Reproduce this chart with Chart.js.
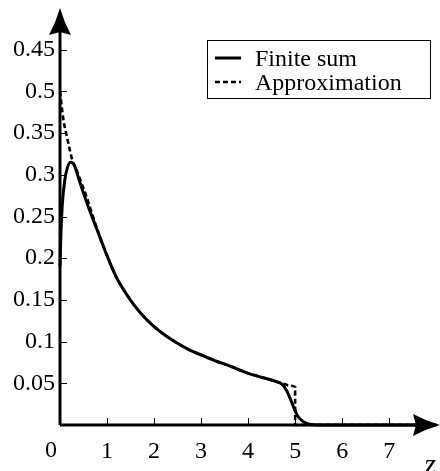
<!DOCTYPE html>
<html>
<head>
<meta charset="utf-8">
<script src="https://cdn.jsdelivr.net/npm/chart.js@4"></script>
<style>
    body { margin: 0; background: #fff; }
    canvas { display: block; }
</style>
</head>
<body>
<canvas id="sumChart" width="440" height="471"></canvas>
<script>
// z positions and values of the finite sum
const sumZ = [0, 0.02, 0.05, 0.1, 0.15, 0.22, 0.3, 0.4, 0.5, 0.6, 0.7, 0.85, 1.0, 1.2, 1.4, 1.6, 1.8, 2.0,
    2.25, 2.5, 2.75, 3.0, 3.3, 3.6, 4.0, 4.3, 4.6, 4.72, 4.82, 4.9, 4.97, 5.05, 5.15, 5.3, 5.5, 8.0];
const sumValues = [0.19, 0.23, 0.265, 0.293, 0.307, 0.315, 0.312, 0.295, 0.278, 0.262, 0.247, 0.225, 0.203, 0.177,
    0.158, 0.142, 0.129, 0.118, 0.107, 0.098, 0.090, 0.084, 0.077, 0.071, 0.062, 0.057, 0.052, 0.049, 0.041, 0.031,
    0.021, 0.011, 0.005, 0.001, 0, 0];

// z positions and values of the approximation
const approxZ = [0, 0.07, 0.13, 0.2, 0.26, 0.35, 0.45, 0.55, 0.7, 0.85, 1.0, 1.2, 1.4, 1.6, 1.8, 2.0, 2.25, 2.5,
    2.75, 3.0, 3.3, 3.6, 4.0, 4.3, 4.6, 4.75, 4.9, 4.999, 5.0, 8.0];
const approxValues = [0.400, 0.367, 0.350, 0.332, 0.318, 0.306, 0.291, 0.276, 0.250, 0.225, 0.203, 0.177, 0.158,
    0.142, 0.129, 0.118, 0.107, 0.098, 0.090, 0.084, 0.077, 0.071, 0.062, 0.057, 0.052, 0.0495, 0.047, 0.0455, 0, 0];

const zTicks = [0, 1, 2, 3, 4, 5, 6, 7];
const zTickLabels = ['0', '1', '2', '3', '4', '5', '6', '7'];
const yTicks = [0.05, 0.1, 0.15, 0.2, 0.25, 0.3, 0.35, 0.4, 0.45];
const yTickLabels = ['0.05', '0.1', '0.15', '0.2', '0.25', '0.3', '0.35', '0.5', '0.45'];

const seriesLabels = ['Finite sum', 'Approximation'];

const FONT = 'Liberation Serif';
const FONT_SIZE = 24;

const toPoints = (xs, ys) => xs.map((z, i) => ({ x: z, y: ys[i] }));

// axes with arrow heads, inward ticks, origin label and axis name
const arrowAxes = {
    id: 'arrowAxes',
    afterDatasetsDraw(chart) {
        const { ctx, chartArea, scales: { x, y } } = chart;
        const ox = x.getPixelForValue(0);
        const oy = y.getPixelForValue(0);
        const head = 27, half = 11;

        ctx.save();
        ctx.strokeStyle = '#000';
        ctx.fillStyle = '#000';

        ctx.lineWidth = 1;
        ctx.beginPath();
        yTicks.forEach(v => {
            const py = Math.round(y.getPixelForValue(v)) + 0.5;
            ctx.moveTo(ox, py);
            ctx.lineTo(ox + 7, py);
        });
        zTicks.slice(1).forEach(v => {
            const px = Math.round(x.getPixelForValue(v)) + 0.5;
            ctx.moveTo(px, oy);
            ctx.lineTo(px, oy - 7);
        });
        ctx.stroke();

        ctx.lineWidth = 3;
        ctx.beginPath();
        ctx.moveTo(ox, oy);
        ctx.lineTo(chartArea.right - head + 4, oy);
        ctx.moveTo(ox, oy);
        ctx.lineTo(ox, chartArea.top + head - 4);
        ctx.stroke();

        // x arrow
        let tx = chartArea.right, ty = oy;
        ctx.beginPath();
        ctx.moveTo(tx, ty);
        ctx.quadraticCurveTo(tx - head * 0.5, ty - half * 0.35, tx - head, ty - half);
        ctx.lineTo(tx - head + 3, ty);
        ctx.lineTo(tx - head, ty + half);
        ctx.quadraticCurveTo(tx - head * 0.5, ty + half * 0.35, tx, ty);
        ctx.fill();

        // y arrow
        tx = ox; ty = chartArea.top;
        ctx.beginPath();
        ctx.moveTo(tx, ty);
        ctx.quadraticCurveTo(tx - half * 0.35, ty + head * 0.5, tx - half, ty + head);
        ctx.lineTo(tx, ty + head - 3);
        ctx.lineTo(tx + half, ty + head);
        ctx.quadraticCurveTo(tx + half * 0.35, ty + head * 0.5, tx, ty);
        ctx.fill();

        ctx.font = `${FONT_SIZE}px "${FONT}"`;
        ctx.textAlign = 'center';
        ctx.textBaseline = 'top';
        ctx.fillText(zTickLabels[0], ox - 9, x.top + 14);

        ctx.font = `italic 30px "${FONT}"`;
        ctx.textBaseline = 'alphabetic';
        ctx.fillText('z', chartArea.right - 10, chart.height + 3);
        ctx.restore();
    }
};

// boxed legend in the upper right corner
const boxLegend = {
    id: 'boxLegend',
    afterDraw(chart) {
        const { ctx, chartArea } = chart;
        const left = chartArea.left + 147, right = chartArea.right - 10;
        const top = chartArea.top + 32, rowH = 24;

        ctx.save();
        ctx.strokeStyle = '#000';
        ctx.lineWidth = 1;
        ctx.strokeRect(left + 0.5, top + 0.5, right - left, rowH * 2 + 10);

        ctx.font = `${FONT_SIZE}px "${FONT}"`;
        ctx.fillStyle = '#000';
        ctx.textAlign = 'left';
        ctx.textBaseline = 'alphabetic';
        chart.data.datasets.forEach((ds, i) => {
            const ry = top + 18 + i * rowH;
            ctx.lineWidth = ds.borderWidth;
            ctx.setLineDash(ds.borderDash || []);
            ctx.beginPath();
            ctx.moveTo(left + 8, ry);
            ctx.lineTo(left + 34, ry);
            ctx.stroke();
            ctx.setLineDash([]);
            ctx.fillText(ds.label, left + 48, ry + 8);
        });
        ctx.restore();
    }
};

// tick labels sit inside the axis ends, so no extra room is needed for them
const noEdgePadding = scale => {
    scale.paddingTop = 0;
    scale.paddingBottom = 0;
    scale.paddingLeft = 0;
    scale.paddingRight = 0;
};

new Chart(document.getElementById('sumChart'), {
    type: 'line',
    data: {
        datasets: [{
            label: seriesLabels[0],
            data: toPoints(sumZ, sumValues),
            borderColor: '#000',
            borderWidth: 3,
            pointRadius: 0,
            cubicInterpolationMode: 'monotone',
            clip: false
        }, {
            label: seriesLabels[1],
            data: toPoints(approxZ, approxValues),
            borderColor: '#000',
            borderWidth: 2.6,
            borderDash: [5, 3],
            pointRadius: 0,
            cubicInterpolationMode: 'monotone',
            clip: false
        }]
    },
    options: {
        responsive: false,
        animation: false,
        layout: { padding: { top: 8, right: 0, left: 0, bottom: 0 } },
        plugins: {
            legend: { display: false },
            tooltip: { enabled: false }
        },
        scales: {
            x: {
                type: 'linear',
                min: 0,
                max: 8.08,
                grid: { display: false, drawTicks: false },
                border: { display: false },
                afterBuildTicks: scale => { scale.ticks = zTicks.map(v => ({ value: v })); },
                afterFit: scale => { scale.height = 46; noEdgePadding(scale); },
                ticks: {
                    padding: 12,
                    maxRotation: 0,
                    autoSkip: false,
                    color: '#000',
                    font: { family: FONT, size: FONT_SIZE },
                    callback: (v, i) => i === 0 ? '' : zTickLabels[i]
                }
            },
            y: {
                type: 'linear',
                min: 0,
                max: 0.5,
                grid: { display: false, drawTicks: false },
                border: { display: false },
                afterBuildTicks: scale => { scale.ticks = yTicks.map(v => ({ value: v })); },
                afterFit: scale => { scale.width = 60; noEdgePadding(scale); },
                ticks: {
                    padding: 5,
                    autoSkip: false,
                    color: '#000',
                    font: { family: FONT, size: FONT_SIZE },
                    callback: (v, i) => yTickLabels[i]
                }
            }
        }
    },
    plugins: [arrowAxes, boxLegend]
});
</script>
</body>
</html>
